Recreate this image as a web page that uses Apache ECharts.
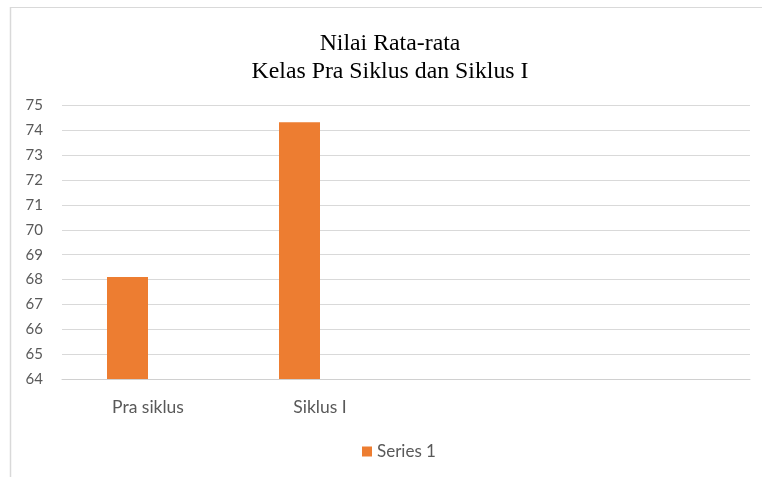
<!DOCTYPE html>
<html>
<head>
<meta charset="utf-8">
<script src="https://cdn.jsdelivr.net/npm/echarts@6/dist/echarts.min.js"></script>
<style>html,body{margin:0;padding:0;background:#fff}#c{width:762px;height:477px}</style>
</head>
<body>
<div id="c"></div>
<script>
const categories = ['Pra siklus', 'Siklus I', '', ''];
const series1 = [68.1, 74.33, null, null];
const series2 = [null, null, null, null];
const seriesName = 'Series 1';
const titleText = 'Nilai Rata-rata\nKelas Pra Siklus dan Siklus I';

const chart = echarts.init(document.getElementById('c'));
chart.setOption({
  animation: false,
  graphic: [
    { type: 'line', shape: { x1: 10.5, y1: 7, x2: 10.5, y2: 477 }, style: { stroke: '#d9d9d9', lineWidth: 1.5 } },
    { type: 'line', shape: { x1: 10, y1: 7.5, x2: 762, y2: 7.5 }, style: { stroke: '#d9d9d9', lineWidth: 1 } }
  ],
  title: {
    text: titleText,
    left: 385,
    top: 25,
    textAlign: 'center',
    textStyle: { fontFamily: 'Liberation Serif', fontSize: 23.8, fontWeight: 'normal', color: '#000', lineHeight: 28 }
  },
  legend: {
    data: [seriesName],
    left: 357,
    top: 438,
    icon: 'rect',
    itemWidth: 10,
    itemHeight: 10,
    itemGap: 5,
    textStyle: { fontFamily: 'Lato', fontSize: 17, color: '#595959' }
  },
  grid: { left: 62, right: 12, top: 105.5, bottom: 98, containLabel: false },
  xAxis: {
    type: 'category',
    data: categories,
    axisLine: { lineStyle: { color: '#d0d0d0', width: 1 } },
    axisTick: { show: false },
    axisLabel: { color: '#595959', fontFamily: 'Lato', fontSize: 17.5, margin: 19 }
  },
  yAxis: {
    type: 'value',
    min: 64, max: 75, interval: 1,
    axisLine: { show: false },
    axisTick: { show: false },
    splitLine: { lineStyle: { color: '#d9d9d9', width: 1 } },
    axisLabel: { color: '#595959', fontFamily: 'Lato', fontSize: 15, margin: 19 }
  },
  series: [{
    name: seriesName,
    type: 'bar',
    data: series1,
    barWidth: 41,
    barGap: '0%',
    itemStyle: { color: '#ED7D31' }
  }, {
    name: 'Series 2',
    type: 'bar',
    data: series2,
    barWidth: 41,
    barGap: '0%',
    itemStyle: { color: '#A5A5A5' }
  }]
});
</script>
</body>
</html>
